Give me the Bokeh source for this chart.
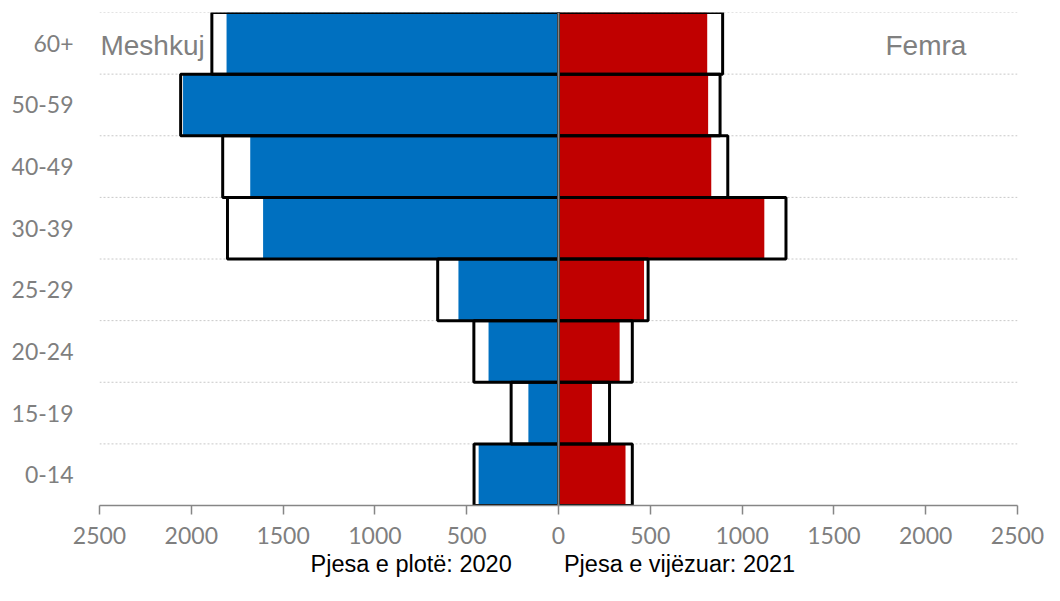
from bokeh.plotting import figure
from bokeh.models import Range1d, FactorRange, FixedTicker, Span, Label, Title
from bokeh.embed import file_html
from bokeh.resources import INLINE

# ---- data ----
categories = ["0-14", "15-19", "20-24", "25-29", "30-39", "40-49", "50-59", "60+"]
male_2020 = [435, 164, 381, 545, 1609, 1679, 2045, 1808]
male_2021 = [460, 258, 461, 658, 1803, 1829, 2058, 1888]
female_2020 = [365, 182, 333, 466, 1121, 832, 815, 810]
female_2021 = [402, 278, 402, 488, 1239, 922, 880, 894]
x_ticks = [-2500, -2000, -1500, -1000, -500, 0, 500, 1000, 1500, 2000, 2500]
x_tick_labels = ["2500", "2000", "1500", "1000", "500", "0", "500", "1000", "1500", "2000", "2500"]
left_title = "Meshkuj"
right_title = "Femra"
note_2020 = "Pjesa e plotë: 2020"
note_2021 = "Pjesa e vijëzuar: 2021"

BLUE = "#0070C0"
RED = "#C00000"
GRAY = "#7f7f7f"

p = figure(width=1044, height=585, output_backend="svg", toolbar_location=None,
           x_range=Range1d(-2500, 2500),
           y_range=FactorRange(factors=categories, range_padding=0),
           min_border_left=99, min_border_right=27, min_border_top=12, min_border_bottom=80)
p.outline_line_color = None
p.xgrid.visible = False
p.ygrid.visible = False
p.background_fill_color = "white"
p.border_fill_color = "white"

# dotted category separators
for i in range(1, len(categories) + 1):
    p.add_layout(Span(location=i, dimension="width", line_color="#c8c8c8",
                      line_width=1, line_dash="2 2", level="underlay"))

# filled bars (2020)
p.hbar(y=categories, left=[-v for v in male_2020], right=0, height=1.0,
       fill_color=BLUE, line_color=None)
p.hbar(y=categories, left=0, right=female_2020, height=1.0,
       fill_color=RED, line_color=None)
# outlined bars (2021)
p.hbar(y=categories, left=[-v for v in male_2021], right=0, height=1.0,
       fill_alpha=0, line_color="black", line_width=3)
p.hbar(y=categories, left=0, right=female_2021, height=1.0,
       fill_alpha=0, line_color="black", line_width=3)

# centre line
p.add_layout(Span(location=0, dimension="height", line_color="#868686",
                  line_width=2, level="overlay"))

# x axis
p.xaxis.ticker = FixedTicker(ticks=x_ticks)
p.xaxis.major_label_overrides = {t: l for t, l in zip(x_ticks, x_tick_labels)}
p.xaxis.minor_tick_line_color = None
p.xaxis.major_tick_in = 0
p.xaxis.major_tick_out = 9
p.xaxis.major_tick_line_color = "#868686"
p.xaxis.major_tick_line_width = 1.5
p.xaxis.axis_line_color = "#868686"
p.xaxis.axis_line_width = 1.5
p.xaxis.major_label_text_font = "Lato"
p.xaxis.major_label_text_font_size = "23px"
p.xaxis.major_label_text_color = GRAY
p.xaxis.major_label_standoff = 12

# y axis
p.yaxis.axis_line_color = None
p.yaxis.major_tick_line_color = None
p.yaxis.minor_tick_line_color = None
p.yaxis.major_label_text_font = "Lato"
p.yaxis.major_label_text_font_size = "23px"
p.yaxis.major_label_text_color = GRAY
p.yaxis.major_label_standoff = 20

# side titles
p.add_layout(Label(x=-2495, y=7.47, text=left_title, text_align="left",
                   text_baseline="middle", text_font="Liberation Sans",
                   text_font_size="28px", text_color="#808080"))
p.add_layout(Label(x=1781, y=7.47, text=right_title, text_align="left",
                   text_baseline="middle", text_font="Liberation Sans",
                   text_font_size="28px", text_color="#808080"))

# notes below the axis
gap = "\u00a0" * 8
p.add_layout(Title(text=note_2020 + gap + note_2021, align="left", offset=211,
                   standoff=5, text_font="Liberation Sans", text_font_size="23.5px",
                   text_font_style="normal", text_color="black"), "below")

open("out.html", "w").write(file_html(p, INLINE))
